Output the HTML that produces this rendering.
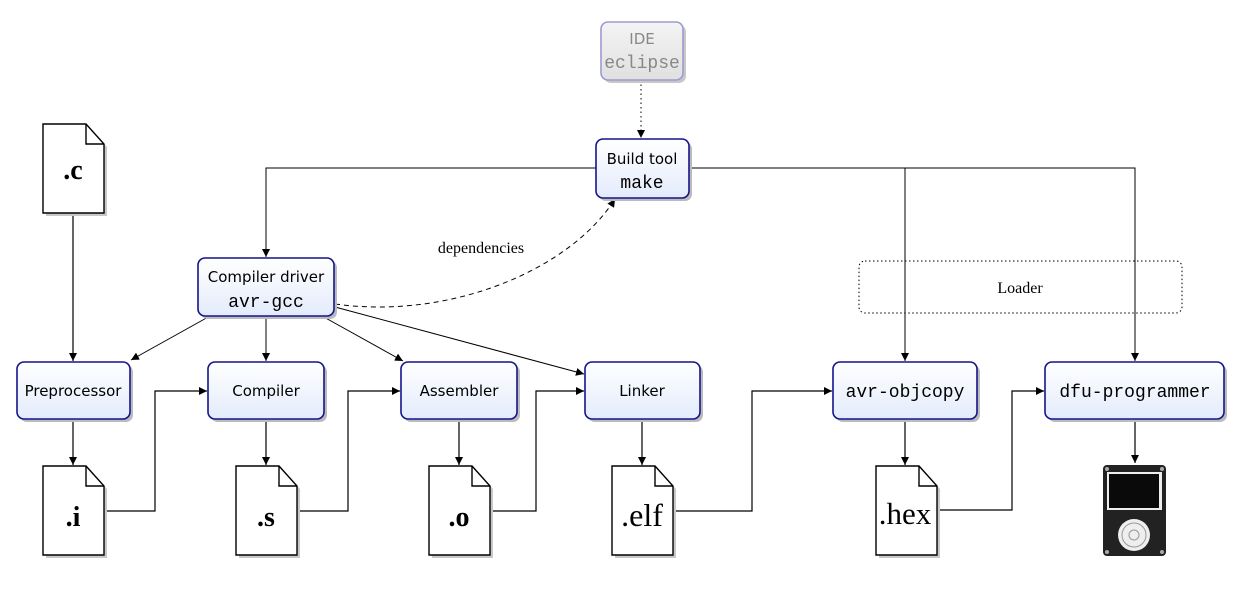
<!DOCTYPE html>
<html><head><meta charset="utf-8"><style>
html,body{margin:0;padding:0;background:#fff;}
svg{display:block;}
.ss{font-family:"DejaVu Sans","Liberation Sans",sans-serif;font-size:15px;}
.tt{font-family:"Liberation Mono","DejaVu Sans Mono",monospace;font-size:18px;}
.rm{font-family:"Liberation Serif",serif;}
</style></head><body>
<svg width="1239" height="596" viewBox="0 0 1239 596" xmlns="http://www.w3.org/2000/svg">
<defs>
<linearGradient id="g" x1="0" y1="0" x2="0" y2="1"><stop offset="0" stop-color="#ffffff"/><stop offset="1" stop-color="#e3ebfb"/></linearGradient>
<linearGradient id="gg" x1="0" y1="0" x2="0" y2="1"><stop offset="0" stop-color="#f4f4f4"/><stop offset="1" stop-color="#e0e0e0"/></linearGradient>
<marker id="a" viewBox="0 0 10 10" refX="10" refY="5" markerWidth="8" markerHeight="8" orient="auto" markerUnits="userSpaceOnUse"><path d="M0,0 L10,5 L0,10 Z" fill="#000"/></marker>
</defs>
<g fill="none" stroke="#000" stroke-width="1">
<line x1="641" y1="80" x2="641" y2="138" stroke-dasharray="1.5,3" marker-end="url(#a)"/>
<polyline points="596,168 266,168 266,257" marker-end="url(#a)"/>
<polyline points="689,168 1135,168 1135,361" marker-end="url(#a)"/>
<line x1="905" y1="168" x2="905" y2="361" marker-end="url(#a)"/>
<path d="M335,304 C450,320 570,270 615,199" stroke-dasharray="5,4" marker-end="url(#a)"/>
<line x1="210" y1="316" x2="131" y2="360" marker-end="url(#a)"/>
<line x1="266" y1="316" x2="266" y2="361" marker-end="url(#a)"/>
<line x1="322" y1="316" x2="403" y2="361" marker-end="url(#a)"/>
<line x1="335" y1="307" x2="584" y2="374" marker-end="url(#a)"/>
<line x1="73" y1="213" x2="73" y2="361" stroke-width="1.2" marker-end="url(#a)"/>
<line x1="73" y1="419" x2="73" y2="465" stroke-width="1.2" marker-end="url(#a)"/>
<line x1="266" y1="419" x2="266" y2="465" stroke-width="1.2" marker-end="url(#a)"/>
<line x1="459" y1="419" x2="459" y2="465" stroke-width="1.2" marker-end="url(#a)"/>
<line x1="642" y1="419" x2="642" y2="465" stroke-width="1.2" marker-end="url(#a)"/>
<line x1="905" y1="419" x2="905" y2="465" stroke-width="1.2" marker-end="url(#a)"/>
<line x1="1135" y1="419" x2="1135" y2="463" stroke-width="1.2" marker-end="url(#a)"/>
<polyline points="104,511 155,511 155,391 207,391" stroke-width="1.2" marker-end="url(#a)"/>
<polyline points="296,511 348,511 348,391 400,391" stroke-width="1.2" marker-end="url(#a)"/>
<polyline points="490,511 536,511 536,391 584,391" stroke-width="1.2" marker-end="url(#a)"/>
<polyline points="672,511 752,511 752,391 832,391" stroke-width="1.2" marker-end="url(#a)"/>
<polyline points="935,510 1012,510 1012,391 1044,391" stroke-width="1.2" marker-end="url(#a)"/>
<rect x="859" y="261" width="323" height="52" rx="6" stroke-dasharray="1.5,2.5"/>
</g>
<text x="1020" y="293" class="rm" font-size="16" text-anchor="middle">Loader</text>
<text x="481" y="253" class="rm" font-size="16" text-anchor="middle">dependencies</text>

<g stroke-width="1.6">
<rect x="604" y="25" width="82" height="58" rx="7" fill="#c8c8c8" stroke="none"/>
<rect x="601" y="22" width="82" height="58" rx="7" fill="url(#gg)" stroke="#9b9bd0"/>
<rect x="599" y="142" width="93" height="59" rx="7" fill="#bbb" stroke="none"/>
<rect x="596" y="139" width="93" height="59" rx="7" fill="url(#g)" stroke="#14148c"/>
<rect x="201" y="261" width="136" height="58" rx="7" fill="#bbb" stroke="none"/>
<rect x="198" y="258" width="136" height="58" rx="7" fill="url(#g)" stroke="#14148c"/>
<rect x="20" y="365" width="113" height="57" rx="7" fill="#bbb" stroke="none"/>
<rect x="17" y="362" width="113" height="57" rx="7" fill="url(#g)" stroke="#14148c"/>
<rect x="211" y="365" width="116" height="57" rx="7" fill="#bbb" stroke="none"/>
<rect x="208" y="362" width="116" height="57" rx="7" fill="url(#g)" stroke="#14148c"/>
<rect x="404" y="365" width="116" height="57" rx="7" fill="#bbb" stroke="none"/>
<rect x="401" y="362" width="116" height="57" rx="7" fill="url(#g)" stroke="#14148c"/>
<rect x="588" y="365" width="115" height="57" rx="7" fill="#bbb" stroke="none"/>
<rect x="585" y="362" width="115" height="57" rx="7" fill="url(#g)" stroke="#14148c"/>
<rect x="836" y="365" width="144" height="57" rx="7" fill="#bbb" stroke="none"/>
<rect x="833" y="362" width="144" height="57" rx="7" fill="url(#g)" stroke="#14148c"/>
<rect x="1048" y="365" width="179" height="57" rx="7" fill="#bbb" stroke="none"/>
<rect x="1045" y="362" width="179" height="57" rx="7" fill="url(#g)" stroke="#14148c"/>
</g>
<text x="642" y="44" class="ss" font-size="16" fill="#888" text-anchor="middle">IDE</text>
<text x="642" y="68" class="tt" font-size="16" fill="#888" text-anchor="middle">eclipse</text>
<text x="642" y="164" class="ss" text-anchor="middle">Build tool</text>
<text x="642" y="188" class="tt" text-anchor="middle">make</text>
<text x="266" y="282" class="ss" text-anchor="middle">Compiler driver</text>
<text x="266" y="307" class="tt" text-anchor="middle">avr-gcc</text>
<text x="73" y="396" class="ss" font-size="14" text-anchor="middle">Preprocessor</text>
<text x="266" y="396" class="ss" font-size="14" text-anchor="middle">Compiler</text>
<text x="459" y="396" class="ss" font-size="14" text-anchor="middle">Assembler</text>
<text x="642" y="396" class="ss" font-size="14" text-anchor="middle">Linker</text>
<text x="905" y="397" class="tt" text-anchor="middle">avr-objcopy</text>
<text x="1135" y="397" class="tt" text-anchor="middle">dfu-programmer</text>

<g stroke="#000" stroke-width="1.4">
<g transform="translate(43,124)"><path d="M3,3 H46 L64,23 V92 H3 Z" fill="#c8c8c8" stroke="none"/><path d="M0,0 H43 L61,20 V89 H0 Z" fill="#fff"/><path d="M43,0 V20 H61" fill="none"/></g>
<g transform="translate(43,466)"><path d="M3,3 H46 L64,23 V92 H3 Z" fill="#c8c8c8" stroke="none"/><path d="M0,0 H43 L61,20 V89 H0 Z" fill="#fff"/><path d="M43,0 V20 H61" fill="none"/></g>
<g transform="translate(236,466)"><path d="M3,3 H46 L64,23 V92 H3 Z" fill="#c8c8c8" stroke="none"/><path d="M0,0 H43 L61,20 V89 H0 Z" fill="#fff"/><path d="M43,0 V20 H61" fill="none"/></g>
<g transform="translate(429,466)"><path d="M3,3 H46 L64,23 V92 H3 Z" fill="#c8c8c8" stroke="none"/><path d="M0,0 H43 L61,20 V89 H0 Z" fill="#fff"/><path d="M43,0 V20 H61" fill="none"/></g>
<g transform="translate(612,466)"><path d="M3,3 H46 L64,23 V92 H3 Z" fill="#c8c8c8" stroke="none"/><path d="M0,0 H43 L61,20 V89 H0 Z" fill="#fff"/><path d="M43,0 V20 H61" fill="none"/></g>
<g transform="translate(876,466)"><path d="M3,3 H46 L64,23 V92 H3 Z" fill="#c8c8c8" stroke="none"/><path d="M0,0 H43 L61,20 V89 H0 Z" fill="#fff"/><path d="M43,0 V20 H61" fill="none"/></g>
</g>
<g class="rm" font-weight="bold" font-size="28" text-anchor="middle">
<text x="73" y="179">.c</text>
<text x="73" y="526">.i</text>
<text x="266" y="526">.s</text>
<text x="459" y="526">.o</text>
<text x="642" y="526" font-weight="normal" font-size="32">.elf</text>
<text x="905" y="524" font-weight="normal" font-size="31">.hex</text>
</g>

<rect x="1103" y="465" width="63" height="91" rx="4" fill="#222"/>
<rect x="1107" y="472" width="55" height="38" fill="#eee"/>
<rect x="1109" y="474" width="50" height="34" fill="#0a0a0a"/>
<circle cx="1134" cy="535" r="16" fill="#eee"/>
<circle cx="1134" cy="535" r="12" fill="none" stroke="#999"/>
<circle cx="1134" cy="535" r="5" fill="none" stroke="#999"/>
<circle cx="1107" cy="469" r="2" fill="#aaa"/><circle cx="1162" cy="469" r="2" fill="#aaa"/>
<circle cx="1107" cy="552" r="2" fill="#aaa"/><circle cx="1162" cy="552" r="2" fill="#aaa"/>
</svg>
</body></html>
